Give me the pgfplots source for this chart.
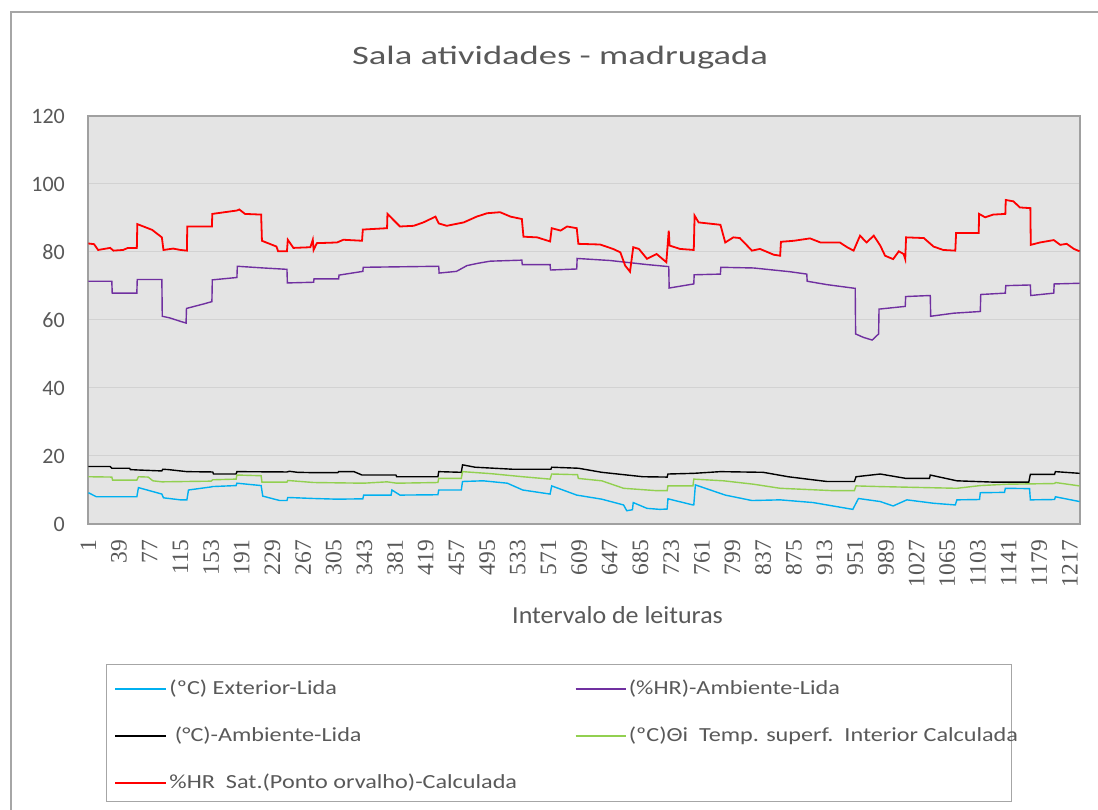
\documentclass[border=0pt]{standalone}
\usepackage{fontspec}
\usepackage{pgfplots}
\pgfplotsset{compat=1.18}
\setmainfont{Carlito}
\newfontfamily\titlefont[FakeStretch=1.38]{Carlito}
\newfontfamily\legfont[FakeStretch=1.21]{Carlito}
\newfontfamily\labfont[FakeStretch=1.06]{Carlito}
\newfontfamily\serifticks{Liberation Serif}
\definecolor{bggray}{HTML}{E4E4E4}
\definecolor{gridgray}{HTML}{D2D2D2}
\definecolor{axisgray}{HTML}{A0A0A0}
\definecolor{framegray}{HTML}{A6A6A6}
\definecolor{textgray}{HTML}{595959}
\definecolor{cblue}{HTML}{00B0F0}
\definecolor{cpurple}{HTML}{7030A0}
\definecolor{cgreen}{HTML}{92D050}
\definecolor{cred}{HTML}{FF0000}
\begin{document}
\begin{tikzpicture}[x=1pt,y=1pt]
\useasboundingbox (0,0) rectangle (1098,810);
\fill[white] (0,0) rectangle (1098,810);
\draw[framegray, line width=2.5pt] (11,0) -- (11,798) -- (1098,798);
\draw[framegray, line width=1pt] (106,8) rectangle (1011,145);
\begin{axis}[
  at={(88pt,286pt)}, anchor=south west,
  width=992pt, height=408pt, scale only axis,
  xmin=0.5, xmax=1229.5, ymin=0, ymax=120,
  enlargelimits=false,
  axis background/.style={fill=bggray},
  axis line style={draw=axisgray, line width=1.3pt},
  ymajorgrids, grid style={draw=gridgray, line width=1pt},
  major tick length=0pt,
  ytick={0,20,40,60,80,100,120},
  yticklabels={0,20,40,60,80,100,120},
  yticklabel style={font=\fontsize{22}{26}\selectfont, text=textgray, anchor=east, inner sep=0pt, xshift=-23pt},
  xtick={1,39,...,1217},
  xticklabels={1,39,77,115,153,191,229,267,305,343,381,419,457,495,533,571,609,647,685,723,761,799,837,875,913,951,989,1027,1065,1103,1141,1179,1217},
  xticklabel style={font=\serifticks\fontsize{23.5}{26}\selectfont, text=textgray, inner sep=0pt, yshift=-16pt, rotate=90, anchor=east},
  title={\titlefont\fontsize{26.5}{30}\selectfont Sala atividades - madrugada},
  title style={at={(axis description cs:0.4758,1.1103)}, anchor=base, yshift=0pt, text=textgray, inner sep=0pt},
  xlabel={\labfont\fontsize{24.5}{28}\selectfont Intervalo de leituras},
  xlabel style={at={(axis description cs:0.5338,-0.2451)}, anchor=base, yshift=0pt, text=textgray, inner sep=0pt},
  legend columns=2,
  legend cell align=left,
  legend style={at={(axis description cs:0.01815,-0.38235)}, anchor=north west,
    draw=none, fill=none,
    inner xsep=8pt, inner ysep=0pt, row sep=29pt, column sep=0pt,
    font=\legfont\fontsize{20}{24}\selectfont,
    nodes={inner xsep=2.5pt, inner ysep=0pt, text height=14pt, text depth=4pt, text=textgray}},
]
% (ºC) Exterior-Lida
\addplot[cblue, line width=1.4pt, legend image code/.code={\draw[cblue, line width=1.4pt] (0pt,0pt) -- (51pt,0pt);}] coordinates {
(1,9.2)(11,8.0)(61,8.0)(63,10.7)(92,8.8)(94,7.7)(115,7.1)(123,7.1)(125,10.0)(153,10.9)(154,11.0)(184,11.3)(185,12.0)(215,11.3)(217,8.2)(238,6.9)(247,6.9)(248,7.8)(280,7.5)(309,7.3)(341,7.4)(342,8.5)(376,8.5)(377,10.0)(387,8.5)(434,8.6)(435,10.0)(463,10.0)(464.5,12.5)(490,12.7)(520,12.0)(539,10.0)(573,8.8)(575,11.2)(606,8.5)(637,7.3)(664,5.6)(668,3.9)(675,4.2)(676,6.3)(693,4.6)(709,4.3)(718,4.4)(719,7.4)(750,5.6)(751,5.6)(753,11.5)(790,8.5)(823,6.9)(858,7.1)(899,6.3)(948,4.3)(955,7.5)(982,6.6)(998,5.3)(1015,7.1)(1048,6.1)(1075,5.6)(1077,7.1)(1105,7.2)(1106,9.2)(1136,9.3)(1137,10.5)(1167,10.4)(1168,7.1)(1198,7.2)(1199,8.0)(1229,6.6)};
\addlegendentry{\makebox[403pt][l]{(ºC) Exterior-Lida}}
% (%HR)-Ambiente-Lida
\addplot[cpurple, line width=1.4pt, legend image code/.code={\draw[cpurple, line width=1.4pt] (0pt,0pt) -- (50pt,0pt);}] coordinates {
(1,71.4)(30,71.4)(30.5,67.9)(61,67.9)(61.5,71.9)(92,71.9)(92.5,61.1)(102,60.6)(115,59.6)(122,59.1)(122.5,63.4)(143.5,64.7)(154,65.4)(154.5,71.8)(185,72.5)(185.5,75.8)(218,75.3)(247,74.9)(247.5,70.9)(280,71.1)(280.5,72.1)(311,72.1)(311.5,73.2)(341,74.3)(341.5,75.5)(435,75.8)(435.5,73.8)(457,74.3)(470,76.0)(484,76.7)(499,77.3)(538,77.6)(538.5,76.3)(573,76.3)(573.5,74.7)(606,75.0)(606.5,78.1)(620,77.9)(647,77.5)(693,76.3)(720,75.7)(720.5,69.4)(751,70.6)(751.5,73.3)(784,73.5)(784.5,75.5)(825,75.3)(870,74.2)(891,73.5)(891.5,71.4)(916,70.4)(951,69.3)(951.5,55.9)(961,54.9)(972,54.1)(980,55.9)(980.5,63.2)(1013,64.0)(1013.5,66.9)(1044,67.2)(1044.5,61.1)(1073,62.0)(1106,62.5)(1106.5,67.5)(1137,67.9)(1137.5,70.1)(1168,70.3)(1168.5,67.2)(1197,67.9)(1197.5,70.6)(1229,70.8)};
\addlegendentry{(\%HR)-Ambiente-Lida}
% (°C)-Ambiente-Lida
\addplot[black, line width=1.4pt, legend image code/.code={\draw[black, line width=1.4pt] (0pt,0pt) -- (51pt,0pt);}] coordinates {
(1,16.9)(28,16.9)(30,16.4)(52,16.4)(53,16.0)(61,15.9)(92,15.6)(93,16.1)(100,16.0)(123,15.4)(155,15.3)(156,14.7)(184,14.7)(185,15.4)(247,15.3)(250,15.5)(260,15.2)(280,15.1)(310,15.1)(311,15.4)(330,15.4)(340,14.4)(382,14.4)(383,13.9)(434,13.9)(435,15.4)(463,15.2)(464.5,17.4)(480,16.7)(527,16.1)(574,16.1)(575,16.7)(608,16.4)(637,15.2)(688,13.9)(718,13.8)(719,14.7)(751,14.9)(784,15.4)(837,15.2)(868,13.9)(895,13.1)(916,12.5)(950,12.5)(952,13.9)(982,14.7)(1014,13.4)(1043,13.4)(1044,14.4)(1077,12.7)(1124,12.3)(1166,12.3)(1168,14.6)(1198,14.6)(1199,15.4)(1229,14.9)};
\addlegendentry{\makebox[403pt][l]{\ (°C)-Ambiente-Lida}}
% (ºC)Θi Temp. superf. Interior Calculada
\addplot[cgreen, line width=1.4pt, legend image code/.code={\draw[cgreen, line width=1.4pt] (0pt,0pt) -- (50pt,0pt);}] coordinates {
(1,13.9)(30,13.8)(31,12.9)(61,12.9)(63,13.9)(75,13.8)(81,12.7)(92,12.4)(153,12.6)(155,13.0)(184,13.2)(185,14.4)(215,14.2)(216,12.3)(247,12.3)(248,12.8)(280,12.2)(342,12.0)(371,12.4)(383,12.0)(434,12.2)(435,13.4)(463,13.4)(464.5,15.4)(500,14.8)(539,13.9)(573,13.2)(575,14.7)(607,14.5)(608,13.4)(637,12.7)(664,10.5)(705,9.8)(718,9.8)(719,11.2)(750,11.2)(751,13.2)(788,12.7)(825,11.7)(858,10.5)(924,9.8)(950,9.8)(952,11.2)(982,11.0)(1077,10.5)(1106,11.3)(1139,11.7)(1198,11.9)(1199,12.2)(1229,11.2)};
\addlegendentry{(ºC)Θi\ \ Temp. superf.\ \ Interior Calculada}
% %HR Sat.(Ponto orvalho)-Calculada
\addplot[cred, line width=1.8pt, legend image code/.code={\draw[cred, line width=1.8pt] (0pt,0pt) -- (51pt,0pt);}] coordinates {
(1,82.5)(8,82.3)(13,80.6)(28,81.2)(32,80.4)(44,80.6)(50,81.2)(61,81.2)(61.6,88.2)(80,86.5)(92,84.3)(94,80.6)(106,81.0)(115,80.6)(123,80.4)(123.5,87.5)(154,87.5)(154.5,91.2)(185,92.2)(188,92.5)(195,91.2)(215,91.0)(216,83.3)(234,81.6)(236,80.2)(247,80.2)(248,83.6)(255,81.2)(276,81.4)(279,83.6)(280,80.6)(284,82.6)(309,82.8)(317,83.6)(340,83.3)(341,86.6)(371,87.0)(371.5,91.2)(387,87.5)(404,87.7)(416,88.7)(431,90.4)(435,88.4)(445,87.7)(466,88.7)(482,90.4)(495,91.4)(511,91.7)(524,90.4)(538,89.7)(540,84.5)(557,84.3)(573,83.1)(575,87.0)(586,86.3)(594,87.5)(606,87.0)(608,82.4)(635,82.2)(651,80.9)(660,79.9)(666,76.0)(672,74.2)(676,81.4)(683,80.9)(693,78.0)(705,79.4)(717,77.0)(720,86.3)(721,81.9)(734,80.9)(751,80.6)(752,90.7)(757,88.7)(784,88.0)(790,82.8)(800,84.3)(808,84.1)(817,81.9)(823,80.4)(833,80.9)(850,79.2)(858,78.9)(859,83.0)(875,83.3)(895,84.0)(908,82.8)(932,82.8)(941,81.4)(949,80.4)(957,84.8)(965,82.8)(974,84.8)(982,81.9)(988,78.9)(998,77.9)(1005,80.2)(1011,79.4)(1013,77.9)(1014,84.3)(1036,84.1)(1048,81.6)(1060,80.6)(1075,80.4)(1076,85.6)(1104,85.6)(1104.5,91.2)(1112,90.2)(1122,91.0)(1137,91.2)(1137.5,95.3)(1147,94.9)(1155,93.1)(1168,92.9)(1168.5,82.1)(1180,82.8)(1197,83.5)(1205,82.1)(1213,82.4)(1222,80.9)(1229,80.2)};
\addlegendentry{\makebox[403pt][l]{\%HR\ \ Sat.(Ponto orvalho)-Calculada}}
\end{axis}
\end{tikzpicture}
\end{document}
